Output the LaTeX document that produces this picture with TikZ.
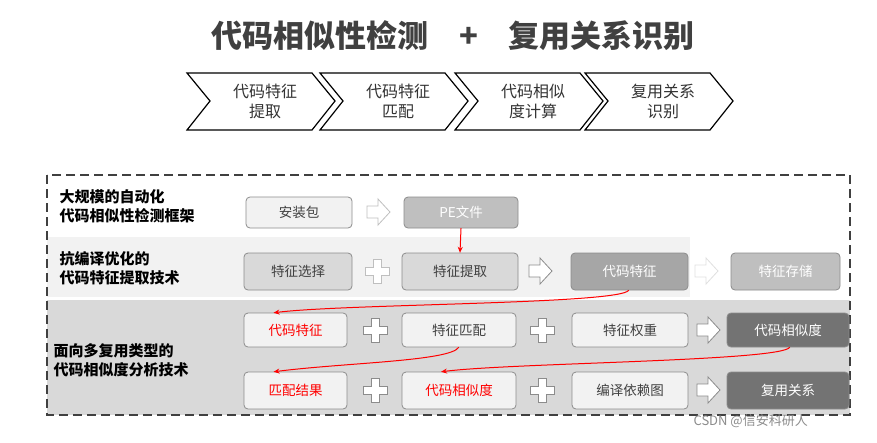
\documentclass[tikz,border=0pt]{standalone}
\usepackage{fontspec}
\newfontfamily\cjk{Noto Sans CJK SC}
\usetikzlibrary{arrows.meta}
\definecolor{bordergray}{HTML}{8C8C8C}
\tikzset{
  x=1pt,y=-1pt,
  box/.style={draw=bordergray,line width=0.8pt,rounded corners=4pt,fill=#1,inner sep=0pt},
  redarr/.style={red,line width=1pt,-{Stealth[length=6pt,width=5pt]}},
  lbl/.style={font=\cjk\bfseries\fontsize{15}{19}\selectfont,align=left,anchor=west},
  chev/.style={draw=black,line width=1.2pt,fill=white},
  hollow/.style={draw=#1,line width=0.8pt,fill=white},
}
\newcommand{\mybox}[7]{% name,x1,y1,x2,y2,fill,text
  \draw[box=#6] (#2,#3) rectangle (#4,#5);
  \node (#1) at ({(#2+#4)/2},{(#3+#5)/2}) [minimum width={#4-#2},minimum height={#5-#3}] {#7};}
\newcommand{\plus}[3][bordergray]{%
  \draw[hollow=#1] (#2-4,#3-12)--(#2+4,#3-12)--(#2+4,#3-4)--(#2+12,#3-4)--(#2+12,#3+4)--(#2+4,#3+4)--(#2+4,#3+12)--(#2-4,#3+12)--(#2-4,#3+4)--(#2-12,#3+4)--(#2-12,#3-4)--(#2-4,#3-4)--cycle;}
\newcommand{\harr}[3][bordergray]{%
  \draw[hollow=#1] (#2-11,#3-6)--(#2,#3-6)--(#2,#3-13)--(#2+12,#3)--(#2,#3+13)--(#2,#3+6)--(#2-11,#3+6)--cycle;}
\newcommand{\redcurve}[2]{%
  \draw[redarr] (#1) .. controls ([xshift=-8pt,yshift=-14pt]#1) and ([xshift=70pt,yshift=9pt]#2) .. (#2);}
\begin{document}
\begin{tikzpicture}
\useasboundingbox (0,0) rectangle (877,442);
\fill[white] (0,0) rectangle (877,442);
\node[font=\cjk\bfseries\fontsize{31}{34}\selectfont,text=black!75] (title) at (453,36) {代码相似性检测\quad +\quad 复用关系识别};
% chevrons
\foreach \x/\t [count=\i] in {187/{代码特征\\提取},320/{代码特征\\匹配},455/{代码相似\\度计算},585/{复用关系\\识别}}{
  \draw[chev] (\x,73)--(\x+125,73)--(\x+148,101)--(\x+125,130)--(\x,130)--(\x+23,101)--cycle;
  \node[font=\cjk\fontsize{16}{20}\selectfont,align=center,text=black!80] (c\i) at (\x+78,101) {\t};
}
% bands
\fill[black!5] (47,237) rectangle (690,297);
\fill[black!15] (47,300) rectangle (850,415);
\draw[dashed,line width=1.5pt,black!75,dash pattern=on 9pt off 5pt] (47,175) rectangle (850,415);
\node[lbl] (l1) at (56,206) {大规模的自动化\\代码相似性检测框架};
\node[lbl] (l2) at (56,268) {抗编译优化的\\代码特征提取技术};
\node[lbl] (l3) at (50,360) {面向多复用类型的\\代码相似度分析技术};
\tikzset{every node/.append style={font=\cjk\fontsize{13.5}{15}\selectfont,text=black!75}}
\mybox{a1}{246}{197}{352}{228}{black!5}{安装包}
\mybox{a2}{404}{197}{518}{228}{black!25}{\textcolor{white}{PE文件}}
\harr[black!25]{378}{212}
\mybox{b1}{244}{253}{352}{290}{black!15}{特征选择}
\mybox{b2}{402}{253}{518}{290}{black!15}{特征提取}
\mybox{b3}{571}{253}{688}{290}{black!35}{\textcolor{white}{代码特征}}
\mybox{b4}{731}{253}{840}{290}{black!25}{\textcolor{white}{特征存储}}
\plus[black!25]{377}{271}
\harr{540}{271}
\harr[black!12]{706}{271}
\mybox{c1}{244}{313}{347}{347}{black!5}{\textcolor{red}{代码特征}}
\mybox{c2}{402}{313}{516}{347}{black!5}{特征匹配}
\mybox{c3}{572}{313}{688}{347}{black!5}{特征权重}
\mybox{c4}{727}{313}{849}{347}{black!55}{\textcolor{white}{代码相似度}}
\plus{375}{330}
\plus{542}{330}
\harr{708}{330}
\mybox{d1}{244}{372}{347}{409}{black!5}{\textcolor{red}{匹配结果}}
\mybox{d2}{402}{372}{516}{409}{black!5}{\textcolor{red}{代码相似度}}
\mybox{d3}{572}{372}{688}{409}{black!5}{编译依赖图}
\mybox{d4}{727}{372}{849}{409}{black!55}{\textcolor{white}{复用关系}}
\plus{375}{390}
\plus{542}{390}
\harr{708}{390}
% red arrows
\coordinate (s1) at ([xshift=58pt]b3.south west);
\coordinate (e1) at ([xshift=-22pt]c1.north);
\coordinate (s2) at ([xshift=57pt]c2.south west);
\coordinate (e2) at ([xshift=-22pt]d1.north);
\coordinate (s3) at ([xshift=63pt]c4.south west);
\coordinate (e3) at ([xshift=-18pt]d2.north);
\draw[redarr] (a2.south) -- (b2.north);
\redcurve{s1}{e1}
\redcurve{s2}{e2}
\redcurve{s3}{e3}
\node[font=\cjk\fontsize{13}{15}\selectfont,text=black!45,anchor=west] (wm) at (690,421) {CSDN @信安科研人};
\end{tikzpicture}
\end{document}
